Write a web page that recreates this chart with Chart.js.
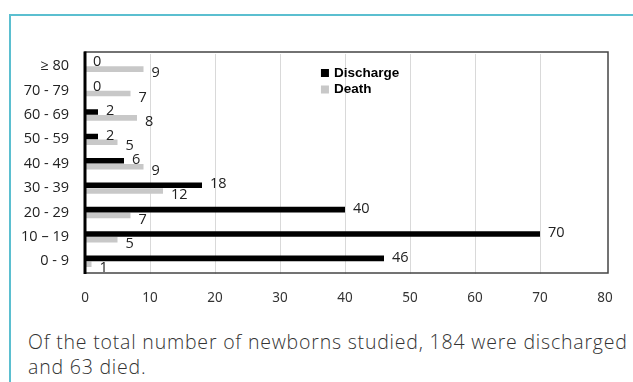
<!DOCTYPE html>
<html>
<head>
<meta charset="utf-8">
<script src="https://cdn.jsdelivr.net/npm/chart.js@4"></script>
<style>
  html, body { margin: 0; padding: 0; background: #fff; }
  body { width: 633px; height: 382px; position: relative; overflow: hidden; }
  .frame-top { position: absolute; left: 9px; top: 14px; width: 624px; height: 2px; background: #5bbfd0; }
  .frame-left { position: absolute; left: 9px; top: 14px; width: 2px; height: 368px; background: #5bbfd0; }
  #wrap { position: absolute; left: 0; top: 0; width: 633px; height: 322px; }
  .caption {
    position: absolute; left: 28px; top: 329px; width: 602px;
    font-family: "Open Sans", "Noto Sans", sans-serif; font-weight: 300;
    font-size: 19.5px; letter-spacing: 0.8px; line-height: 25px; color: #333;
  }
</style>
</head>
<body>
<div class="frame-top"></div>
<div class="frame-left"></div>
<div id="wrap"><canvas id="chart"></canvas></div>
<div class="caption">Of the total number of newborns studied, 184 were discharged and 63 died.</div>
<script>
// age groups, top to bottom
const ageGroups = ['≥ 80', '70 - 79', '60 - 69', '50 - 59', '40 - 49', '30 - 39', '20 - 29', '10 – 19', '0 - 9']
const discharge = [0, 0, 2, 2, 6, 18, 40, 70, 46]
const death = [9, 7, 8, 5, 9, 12, 7, 5, 1]
const xTicks = [0, 10, 20, 30, 40, 50, 60, 70, 80]

// box round the plot, thick line at zero
const framePlugin = {
  id: 'frame',
  afterDatasetsDraw(chart) {
    const { ctx, chartArea: a } = chart
    ctx.save()
    ctx.strokeStyle = '#444'
    ctx.lineWidth = 1.5
    ctx.strokeRect(a.left, a.top - 2, a.right + 3 - a.left, a.bottom - a.top + 1.5)
    ctx.strokeStyle = '#000'
    ctx.lineWidth = 3
    ctx.beginPath()
    ctx.moveTo(a.left, a.top - 2.5)
    ctx.lineTo(a.left, a.bottom + 0.5)
    ctx.stroke()
    ctx.restore()
  }
}

// value labels next to the bar ends
const valuePlugin = {
  id: 'values',
  afterDatasetsDraw(chart) {
    const { ctx } = chart
    ctx.save()
    ctx.font = '14.5px "Open Sans", "Noto Sans", sans-serif'
    ctx.fillStyle = '#222'
    ctx.textBaseline = 'middle'
    chart.data.datasets.forEach((ds, i) => {
      chart.getDatasetMeta(i).data.forEach((bar, j) => {
        ctx.fillText(String(ds.data[j]), bar.x + 8, bar.y + (i === 0 ? -1 : 4))
      })
    })
    ctx.restore()
  }
}

// legend inside the plot
const legendPlugin = {
  id: 'innerLegend',
  afterDraw(chart) {
    const { ctx } = chart
    const x = chart.scales.x.getPixelForValue(36.3)
    const y0 = chart.chartArea.top + 19
    ctx.save()
    ctx.font = 'bold 13.5px "Liberation Sans", Arial, sans-serif'
    ctx.textBaseline = 'middle'
    chart.data.datasets.forEach((ds, i) => {
      const y = y0 + i * 16.5
      ctx.fillStyle = ds.backgroundColor
      ctx.fillRect(x, y - 4, 8, 8)
      ctx.fillStyle = '#000'
      ctx.fillText(ds.label, x + 13, y)
    })
    ctx.restore()
  }
}

new Chart(document.getElementById('chart'), {
  type: 'bar',
  data: {
    labels: ageGroups,
    datasets: [
      { label: 'Discharge', data: discharge, backgroundColor: '#000000' },
      { label: 'Death', data: death, backgroundColor: '#c8c8c8' }
    ]
  },
  options: {
    indexAxis: 'y',
    responsive: true,
    maintainAspectRatio: false,
    animation: false,
    categoryPercentage: 0.48,
    barPercentage: 0.95,
    layout: { padding: { left: 0, right: 28, top: 54, bottom: 0 } },
    plugins: { legend: { display: false }, tooltip: { enabled: false } },
    scales: {
      x: {
        min: 0, max: 80,
        afterBuildTicks(scale) { scale.ticks = xTicks.map(v => ({ value: v })) },
        afterFit(scale) { scale.height = 48.5 },
        grid: {
          drawTicks: false,
          color: ctx => (ctx.tick && (ctx.tick.value === 0 || ctx.tick.value === 80)) ? 'rgba(0,0,0,0)' : '#d9d9d9',
          lineWidth: 1
        },
        border: { display: false },
        ticks: {
          padding: 17,
          color: '#333',
          font: { family: '"Noto Sans", "Open Sans", sans-serif', size: 13.5 }
        }
      },
      y: {
        afterFit(scale) { scale.width = 85 },
        grid: { display: false, drawTicks: false },
        border: { display: false },
        ticks: {
          padding: 16,
          color: '#222',
          font: { family: '"Open Sans", "Noto Sans", sans-serif', size: 14.5 }
        }
      }
    }
  },
  plugins: [framePlugin, valuePlugin, legendPlugin]
})
</script>
</body>
</html>
